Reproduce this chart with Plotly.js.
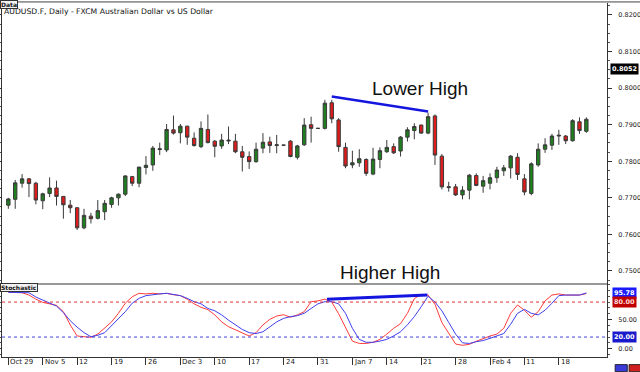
<!DOCTYPE html>
<html><head><meta charset="utf-8">
<script src="https://cdn.plot.ly/plotly-3.0.1.min.js"></script>
<style>html,body{margin:0;padding:0;background:#fff}#chart{width:640px;height:372px}</style>
</head><body><div id="chart"></div>
<script>
// ---------- data ----------
const openP  = [.7680,.7696,.7740,.7752,.7740,.7692,.7712,.7727,.7704,.7680,.7673,.7618,.7650,.7644,.7662,.7682,.7700,.7710,.7758,.7740,
                .7783,.7790,.7832,.7831,.7886,.7878,.7896,.7863,.7840,.7887,.7855,.7842,.7858,.7855,.7826,.7813,.7799,.7836,.7853,.7843,
                .7844,.7855,.7811,.7845,.7900,.7890,.7890,.7960,.7913,.7838,.7790,.7796,.7805,.7765,.7805,.7826,.7840,.7828,.7866,.7884,
                .7899,.7877,.7924,.7814,.7728,.7730,.7708,.7721,.7761,.7732,.7740,.7755,.7774,.7782,.7811,.7752,.7712,.7790,.7833,.7844,
                .7869,.7869,.7856,.7908,.7882];
const highP  = [.7700,.7749,.7765,.7754,.7744,.7714,.7756,.7747,.7705,.7694,.7674,.7670,.7659,.7694,.7694,.7703,.7712,.7761,.7760,.7785,
                .7814,.7842,.7851,.7902,.7925,.7902,.7897,.7879,.7909,.7928,.7858,.7875,.7895,.7875,.7842,.7827,.7851,.7877,.7867,.7872,
                .7845,.7858,.7845,.7918,.7922,.7891,.7968,.7968,.7918,.7851,.7829,.7833,.7808,.7837,.7838,.7858,.7849,.7869,.7893,.7904,
                .7900,.7933,.7928,.7820,.7744,.7738,.7732,.7765,.7767,.7760,.7767,.7785,.7790,.7817,.7822,.7765,.7797,.7849,.7863,.7875,
                .7886,.7872,.7915,.7920,.7920];
const lowP   = [.7670,.7670,.7728,.7702,.7682,.7669,.7702,.7679,.7643,.7658,.7612,.7614,.7630,.7641,.7639,.7673,.7679,.7705,.7732,.7729,
                .7764,.7774,.7817,.7825,.7873,.7849,.7845,.7840,.7836,.7849,.7811,.7834,.7847,.7822,.7772,.7779,.7796,.7822,.7823,.7822,
                .7843,.7811,.7805,.7842,.7851,.7889,.7887,.7904,.7826,.7781,.7781,.7785,.7760,.7762,.7781,.7823,.7820,.7813,.7854,.7860,
                .7875,.7874,.7790,.7723,.7717,.7705,.7696,.7696,.7732,.7714,.7723,.7741,.7760,.7753,.7749,.7707,.7707,.7785,.7823,.7831,
                .7845,.7847,.7854,.7875,.7878];
const closeP = [.7697,.7741,.7752,.7739,.7694,.7711,.7727,.7704,.7681,.7673,.7618,.7652,.7643,.7665,.7685,.7700,.7710,.7760,.7740,.7784,
                .7789,.7836,.7834,.7887,.7877,.7896,.7866,.7843,.7890,.7851,.7841,.7858,.7856,.7826,.7811,.7799,.7833,.7852,.7843,.7845,
                .7844,.7813,.7842,.7899,.7890,.7890,.7959,.7916,.7840,.7787,.7796,.7807,.7767,.7806,.7829,.7838,.7823,.7866,.7886,.7895,
                .7877,.7922,.7817,.7730,.7730,.7708,.7721,.7762,.7734,.7747,.7755,.7776,.7782,.7814,.7764,.7716,.7793,.7833,.7845,.7869,
                .7871,.7856,.7911,.7884,.7915];
// Stochastic %K (red) and %D (blue)
const stochK = [96.7,96.7,96,92,85,79.5,76.7,74.4,63.5,40.7,21.8,20.6,19.5,25,35,46,60.7,78,89,95,
                94,95,94,95,92.6,91,85,77,71,67,58,46,37.7,32,27.5,21.8,27.5,40.7,50.4,56,
                58.3,54,58,63.5,80.6,82,85,80,60,35,13,9,9,11,16,25,35,43,60.7,86,
                93,92,76,45,27,8,5.8,7.5,12.7,17.8,21.8,25,35,60.7,75,66,54,63.5,82,92,
                94,92,92,92,94.5];
const stochD = [96.7,96.7,96.7,96,88.7,83.5,78,73,62,48,37,27.5,20.6,23,27.5,39,50.4,63.5,78,86.4,
                91,93,94,95,93,91,86.4,80.6,77,69,65,58,49,40.7,33,27.5,26,29,37.7,46,
                52,55,56.6,60.7,69,77,80.6,80.6,77,60.7,35,16,11,11,13,16,22,29,41,55,
                72,90,80,65,45,25,10,9,12,14,17.8,21.8,26,42,60.7,67.5,60.7,58,66,78,
                91,92,92,92,95.78];
const weekLabels = ["Oct 29","Nov 5","12","19","26","Dec 3","10","17","24","31","Jan 7","14","21","28","Feb 4","11","18"];
const priceTicks = [0.75,0.76,0.77,0.78,0.79,0.80,0.81,0.82];
const stochLevels = [80, 20];
// divergence annotation lines (data space)
const priceDivX = [47, 61];
const priceDivY = [0.7977, 0.7936];
const stochDivX = [46.3, 60.9];
const stochDivY = [84.7, 92];
const lastPrice = 0.8052;

// trading days (weekdays) starting Mon 29 Oct 2012
const dates = [];
{ let d = new Date(Date.UTC(2012, 9, 29));
  while (dates.length < closeP.length) { const w = d.getUTCDay(); if (w !== 0 && w !== 6) dates.push(new Date(d)); d.setUTCDate(d.getUTCDate() + 1); } }
const xi = dates.map((d, i) => i);
const mondays = xi.filter(i => dates[i].getUTCDay() === 1);

const small = {family: "DejaVu Sans", size: 6.5, color: "#222"};
const traces = [
  {type: "candlestick", x: xi, open: openP, high: highP, low: lowP, close: closeP, xaxis: "x", yaxis: "y",
   increasing: {line: {color: "#3a3a3a", width: 1}, fillcolor: "#1f7f1f"},
   decreasing: {line: {color: "#3a3a3a", width: 1}, fillcolor: "#e01b1b"},
   whiskerwidth: 0, hoverinfo: "skip", showlegend: false},
  {type: "scatter", mode: "lines", x: priceDivX, y: priceDivY, xaxis: "x", yaxis: "y",
   line: {color: "#1515e0", width: 2.5}, hoverinfo: "skip", showlegend: false},
  {type: "scatter", mode: "lines", x: xi, y: stochK, xaxis: "x", yaxis: "y2",
   line: {color: "#ff3b3b", width: 1}, hoverinfo: "skip", showlegend: false},
  {type: "scatter", mode: "lines", x: xi, y: stochD, xaxis: "x", yaxis: "y2",
   line: {color: "#3f3ff0", width: 1}, hoverinfo: "skip", showlegend: false},
  {type: "scatter", mode: "lines", x: stochDivX, y: stochDivY, xaxis: "x", yaxis: "y2",
   line: {color: "#1515e0", width: 3}, hoverinfo: "skip", showlegend: false}
];

const splitFrac = (357 - 284) / 354;
const annotations = [
  {xref: "paper", yref: "paper", x: 0, y: 0.975, xanchor: "left", yanchor: "middle", showarrow: false,
   text: "AUDUSD.F, Daily - FXCM Australian Dollar vs US Dollar", font: {family: "DejaVu Sans", size: 7.7, color: "#111"}},
  {xref: "paper", yref: "paper", x: -0.003, y: 1.008, xanchor: "left", yanchor: "top", showarrow: false,
   text: "<b>Data</b>", font: {family: "DejaVu Sans", size: 6, color: "#111"}, bgcolor: "#f2f2f2", bordercolor: "#333", borderwidth: 1, borderpad: 0},
  {xref: "paper", yref: "paper", x: -0.003, y: splitFrac + 0.003, xanchor: "left", yanchor: "top", showarrow: false,
   text: "<b>Stochastic</b>", font: {family: "DejaVu Sans", size: 6, color: "#111"}, bgcolor: "#f2f2f2", bordercolor: "#333", borderwidth: 1, borderpad: 0},
  {xref: "x", yref: "y", x: 59.8, y: 0.7998, showarrow: false, text: "Lower High",
   font: {family: "Liberation Sans", size: 19, color: "#111"}},
  {xref: "x", yref: "paper", x: 55.5, y: (357 - 272) / 354, yanchor: "middle", showarrow: false, text: "Higher High",
   font: {family: "Liberation Sans", size: 19, color: "#111"}},
  {xref: "paper", yref: "y", x: 1, xshift: 3, y: lastPrice, xanchor: "left", yanchor: "middle", showarrow: false,
   text: "<b>" + lastPrice.toFixed(4) + "</b>", font: {family: "DejaVu Sans", size: 6.5, color: "#fff"}, bgcolor: "#000", borderpad: 1},
  {xref: "paper", yref: "y2", x: 1, xshift: 5, y: stochD[stochD.length - 1], xanchor: "left", yanchor: "middle", showarrow: false,
   text: "<b>" + stochD[stochD.length - 1].toFixed(2) + "</b>", font: {family: "DejaVu Sans", size: 6.5, color: "#fff"}, bgcolor: "#1a1aff", borderpad: 1},
  {xref: "paper", yref: "y2", x: 1, xshift: 5, y: stochLevels[0], xanchor: "left", yanchor: "middle", showarrow: false,
   text: "<b>" + stochLevels[0].toFixed(2) + "</b>", font: {family: "DejaVu Sans", size: 6.5, color: "#fdd"}, bgcolor: "#c00000", borderpad: 1},
  {xref: "paper", yref: "y2", x: 1, xshift: 5, y: stochLevels[1], xanchor: "left", yanchor: "middle", showarrow: false,
   text: "<b>" + stochLevels[1].toFixed(2) + "</b>", font: {family: "DejaVu Sans", size: 6.5, color: "#fff"}, bgcolor: "#1a1acc", borderpad: 1}
];
mondays.forEach((m, k) => annotations.push({
  xref: "x", yref: "paper", x: m, y: -0.014, xanchor: "left", yanchor: "middle", xshift: 0, showarrow: false,
  text: weekLabels[k], font: {family: "DejaVu Sans", size: 7, color: "#222"}}));

const shapes = [
  {type: "line", xref: "paper", yref: "paper", x0: 0, x1: 1, y0: splitFrac, y1: splitFrac, line: {color: "#333", width: 1.2}},
  {type: "line", xref: "paper", yref: "paper", x0: -0.01, x1: 1.06, y0: 1.003, y1: 1.003, line: {color: "#444", width: 1}},
  // small toolbar buttons, bottom right
  {type: "rect", xref: "paper", yref: "paper", x0: 1.0135, x1: 1.0335, y0: -0.0215, y1: -0.0415, fillcolor: "#3a3ad8", line: {color: "#223", width: 1}},
  {type: "rect", xref: "paper", yref: "paper", x0: 1.0365, x1: 1.0565, y0: -0.0215, y1: -0.0415, fillcolor: "#d02020", line: {color: "#322", width: 1}}
];
stochLevels.forEach((v, k) => shapes.push({type: "line", xref: "paper", yref: "y2", x0: 0, x1: 1, y0: v, y1: v,
  line: {color: k === 0 ? "#e03030" : "#4040e0", width: 1, dash: "dot"}}));

const layout = {
  width: 640, height: 372, margin: {l: 2, r: 33, t: 3, b: 15},
  paper_bgcolor: "#fff", plot_bgcolor: "#fff", showlegend: false, dragmode: false,
  xaxis: {domain: [0, 1], anchor: "y2", range: [-0.92, 87.0], rangeslider: {visible: false},
          tickmode: "array", tickvals: mondays, showticklabels: false, ticks: "outside", ticklen: 7, tickcolor: "#333",
          showgrid: false, zeroline: false, showline: true, linecolor: "#333", linewidth: 1},
  yaxis: {domain: [splitFrac, 1], anchor: "x", side: "right", range: [0.74644, 0.82328],
          tickmode: "array", tickvals: priceTicks, ticktext: priceTicks.map(v => v.toFixed(4)),
          ticks: "outside", ticklen: 4, tickcolor: "#333", showline: true, linecolor: "#333", mirror: "ticks",
          minor: {dtick: 0.0025, ticks: "outside", ticklen: 2, tickcolor: "#555"},
          showgrid: false, zeroline: false, tickfont: small, ticklabelstandoff: 5},
  yaxis2: {domain: [0, splitFrac], anchor: "x", side: "right", range: [-14.24, 110.98],
           tickmode: "array", tickvals: [0, 50], ticktext: ["0.00", "50.00"],
           ticks: "outside", ticklen: 4, tickcolor: "#333", showline: true, linecolor: "#333", mirror: "ticks",
           minor: {dtick: 10, ticks: "outside", ticklen: 2, tickcolor: "#555"},
           showgrid: false, zeroline: false, tickfont: small, ticklabelstandoff: 5},
  annotations: annotations, shapes: shapes
};
Plotly.newPlot("chart", traces, layout, {staticPlot: true, displayModeBar: false});
</script></body></html>
